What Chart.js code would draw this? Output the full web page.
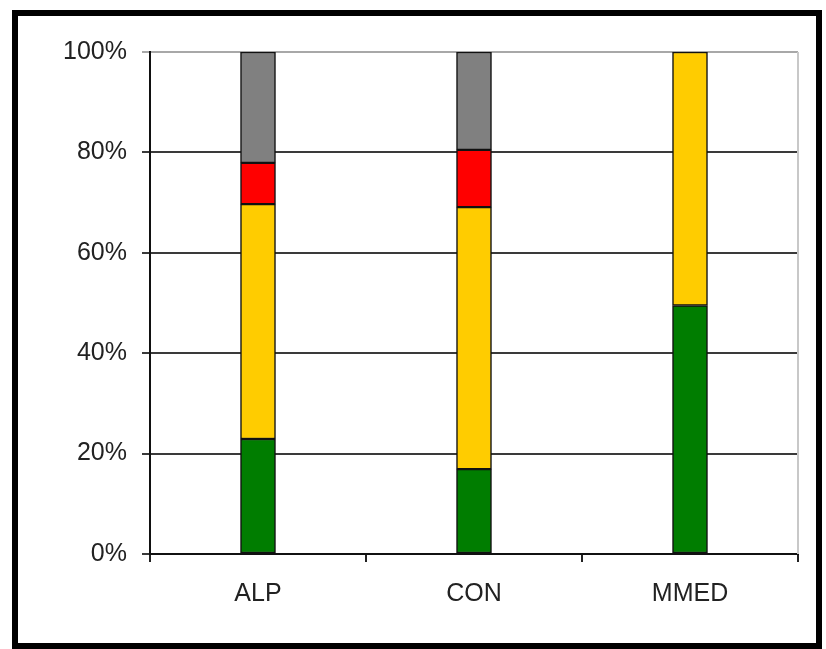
<!DOCTYPE html>
<html>
<head>
<meta charset="utf-8">
<script src="https://cdn.jsdelivr.net/npm/chart.js@4"></script>
<style>
html,body{margin:0;padding:0;background:#fff;}
#wrap{position:relative;width:826px;height:649px;}
</style>
</head>
<body>
<div id="wrap"><canvas id="c" width="826" height="649"></canvas></div>
<script>
const categories = ["ALP", "CON", "MMED"];
const greenValues  = [22.9, 16.9, 49.5];
const yellowValues = [46.8, 52.2, 50.5];
const redValues    = [8.2, 11.4, 0];
const grayValues   = [22.1, 19.5, 0];
const yTicks = [0, 20, 40, 60, 80, 100];

const FONT = "'Liberation Sans', Arial, sans-serif";

const framePlugin = {
  id: 'frame',
  afterDraw(chart) {
    const ctx = chart.ctx;
    const a = chart.chartArea;
    ctx.save();
    ctx.strokeStyle = '#c8c8c8';
    ctx.lineWidth = 2;
    ctx.beginPath();
    ctx.moveTo(a.right, a.top);
    ctx.lineTo(a.right, a.bottom);
    ctx.stroke();
    ctx.strokeStyle = '#000';
    ctx.lineWidth = 6;
    ctx.strokeRect(15, 13, 804, 633);
    ctx.restore();
  }
};

function ds(label, data, color) {
  return {
    label, data,
    backgroundColor: color,
    borderColor: '#111',
    borderWidth: 1.5,
    borderSkipped: false,
    barThickness: 35
  };
}

new Chart(document.getElementById('c'), {
  type: 'bar',
  data: {
    labels: categories,
    datasets: [
      ds('Green', greenValues, '#007d00'),
      ds('Yellow', yellowValues, '#ffcc00'),
      ds('Red', redValues, '#ff0000'),
      ds('Gray', grayValues, '#808080')
    ]
  },
  options: {
    responsive: false,
    animation: false,
    devicePixelRatio: 1,
    layout: { padding: { top: 52, right: 28, left: 0, bottom: 0 } },
    plugins: { legend: { display: false }, tooltip: { enabled: false } },
    scales: {
      x: {
        stacked: true,
        offset: true,
        afterFit(s) { s.height = 95; },
        grid: {
          offset: true,
          drawOnChartArea: false,
          drawTicks: true,
          tickLength: 8,
          color: '#222',
          lineWidth: 2
        },
        border: { display: true, color: '#111', width: 2 },
        ticks: {
          color: '#222',
          padding: 17,
          font: { family: FONT, size: 25 }
        }
      },
      y: {
        stacked: true,
        min: 0,
        max: 100,
        afterFit(s) { s.width = 150; },
        afterBuildTicks(s) { s.ticks = yTicks.map(v => ({ value: v })); },
        grid: {
          color: (c) => (c.tick && c.tick.value === 100) ? '#a8a8a8' : '#3a3a3a',
          lineWidth: 2,
          tickLength: 8,
          drawTicks: true
        },
        border: { display: true, color: '#111', width: 2 },
        ticks: {
          color: '#222',
          padding: 15,
          font: { family: FONT, size: 25 },
          callback: (v) => v + '%'
        }
      }
    }
  },
  plugins: [framePlugin]
});
</script>
</body>
</html>
